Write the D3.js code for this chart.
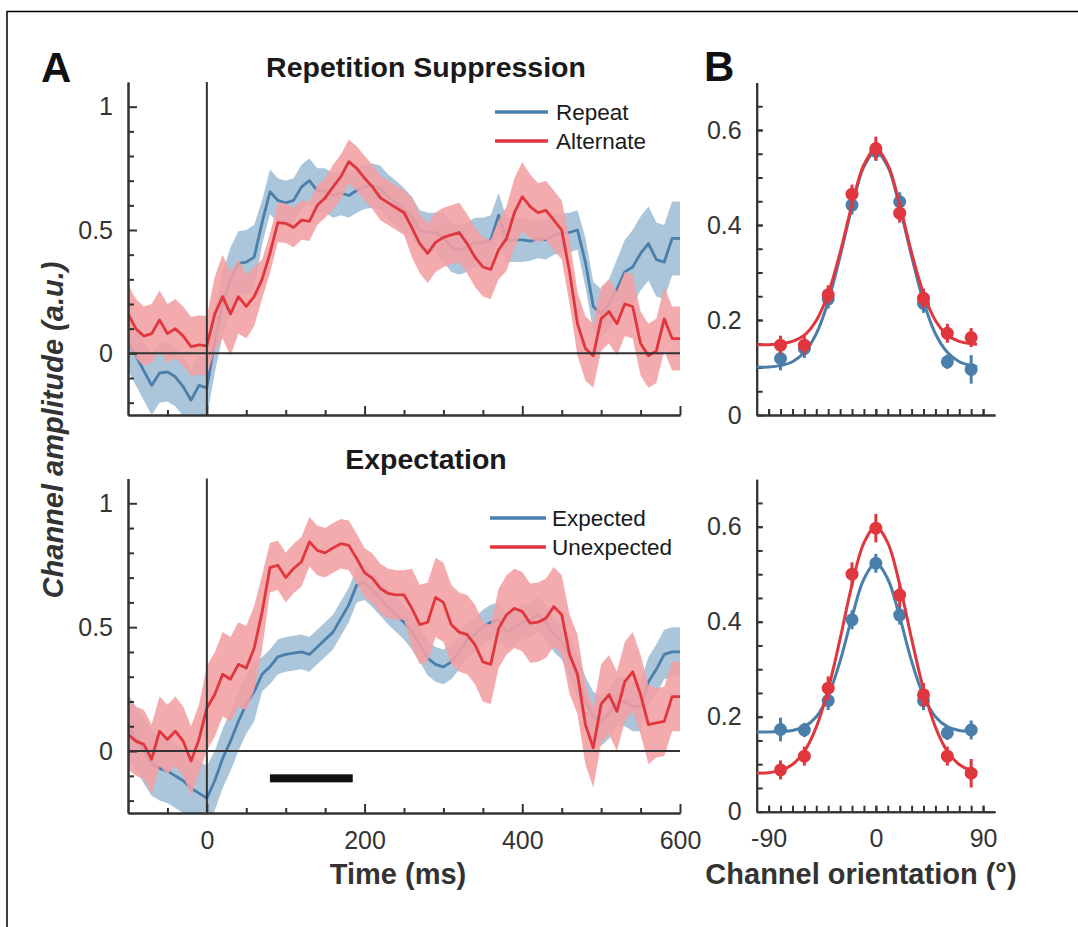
<!DOCTYPE html>
<html><head><meta charset="utf-8">
<script src="https://cdn.jsdelivr.net/npm/d3@7"></script>
<style>
body{margin:0;background:#fff}
svg{display:block}
text{font-family:"Liberation Sans",Arial,Helvetica,sans-serif}
</style>
</head><body>
<svg id="c" width="1078" height="927"></svg>
<script>
// ---------- DATA ----------
const times = d3.range(-100, 601, 10); // ms, sample times

const repeatMean = [0.05,-0.01,-0.07,-0.13,-0.08,-0.075,-0.095,-0.135,-0.19,-0.13,-0.14,
  0.05,0.2,0.30,0.365,0.37,0.39,
  0.53,0.655,0.62,0.61,0.62,0.675,0.70,0.66,0.66,0.64,0.65,0.64,0.66,0.675,0.68,0.67,0.635,0.61,0.58,
  0.555,0.50,0.49,0.49,0.47,0.43,0.42,0.43,0.45,0.45,0.46,0.56,0.46,0.46,0.46,0.455,0.465,0.46,0.48,0.487,0.49,0.50,
  0.37,0.19,0.16,0.2,0.26,0.33,
  0.35,0.405,0.445,0.38,0.37,0.466,0.466];
const repeatErr = [0.12,0.12,0.12,0.12,0.12,0.12,0.12,0.12,0.12,0.12,0.12,
  0.13,0.13,0.13,0.13,0.13,0.13,
  0.09,0.09,0.09,0.09,0.09,0.09,0.09,0.09,0.09,0.09,0.09,0.09,0.09,0.09,0.09,0.09,0.09,0.09,0.09,
  0.08,0.08,0.08,0.08,0.1,0.1,0.1,0.1,0.1,0.1,0.1,0.09,0.09,0.09,0.09,0.08,0.08,0.08,0.08,0.08,0.08,0.08,
  0.1,0.1,0.1,0.1,0.12,0.13,
  0.15,0.15,0.15,0.15,0.15,0.15,0.15];

const alternateMean = [0.16,0.10,0.07,0.08,0.135,0.08,0.10,0.07,0.027,0.034,0.03,
  0.16,0.23,0.16,0.23,0.19,0.23,
  0.30,0.405,0.53,0.527,0.51,0.54,0.535,0.60,0.63,0.675,0.716,0.777,0.75,0.71,0.675,0.63,0.61,0.59,0.57,
  0.51,0.445,0.405,0.45,0.47,0.48,0.49,0.445,0.39,0.35,0.34,0.42,0.465,0.57,0.635,0.595,0.57,0.58,0.54,0.50,0.33,0.12,
  0.02,-0.01,0.14,0.17,0.12,0.2,
  0.19,0.04,-0.01,0.01,0.14,0.06,0.06];
const alternateErr = [0.12,0.12,0.12,0.12,0.12,0.12,0.12,0.12,0.12,0.12,0.12,
  0.15,0.17,0.17,0.15,0.13,0.12,
  0.08,0.08,0.08,0.08,0.08,0.08,0.08,0.08,0.08,
  0.09,0.09,0.09,0.09,0.09,0.09,0.09,0.09,0.09,0.09,
  0.12,0.12,0.12,0.12,0.12,0.12,0.12,0.12,0.12,0.12,0.12,0.12,0.13,0.14,0.14,0.13,0.12,0.12,0.12,0.12,
  0.13,0.13,0.13,0.13,0.13,0.13,0.13,0.13,0.13,0.13,0.13,0.13,0.13,0.13,0.13];

const expectedMean = [0.1,0.05,0.0,-0.05,-0.07,-0.08,-0.1,-0.12,-0.15,-0.17,-0.19,
  -0.12,-0.03,0.04,0.12,0.19,0.24,
  0.31,0.34,0.38,0.39,0.395,0.40,0.39,0.42,0.45,0.48,0.535,0.59,0.67,0.68,0.65,0.616,0.58,0.55,0.52,
  0.48,0.43,0.375,0.35,0.34,0.36,0.40,0.45,0.47,0.50,0.52,0.53,0.48,0.50,0.52,0.53,0.55,0.52,0.47,0.44,0.38,0.30,
  0.20,0.14,0.12,0.15,0.20,0.20,
  0.18,0.18,0.28,0.33,0.39,0.40,0.40];
const expectedErr = [0.13,0.13,0.13,0.13,0.13,0.13,0.13,0.13,0.13,0.13,0.13,
  0.12,0.12,0.12,0.12,0.12,0.12,
  0.07,0.07,0.07,0.07,0.07,0.07,0.07,0.07,0.07,0.07,0.07,0.07,0.07,0.07,0.07,0.07,0.07,0.07,0.07,
  0.07,0.07,0.07,0.07,0.07,0.07,0.07,0.07,0.07,0.07,0.07,0.07,0.07,0.07,0.07,0.07,0.07,0.07,0.07,0.07,0.08,0.09,
  0.1,0.1,0.1,0.1,0.1,0.1,
  0.1,0.1,0.1,0.1,0.1,0.1,0.1];

const unexpectedMean = [0.067,0.04,0.027,-0.033,0.08,0.047,0.08,0.04,-0.04,0.047,0.174,
  0.228,0.31,0.29,0.35,0.335,0.415,
  0.56,0.74,0.75,0.70,0.737,0.764,0.845,0.81,0.80,0.82,0.837,0.83,0.777,0.72,0.697,0.656,0.636,0.63,0.63,
  0.576,0.51,0.52,0.62,0.60,0.51,0.48,0.47,0.43,0.36,0.35,0.495,0.55,0.576,0.563,0.516,0.52,0.536,0.583,0.55,0.39,0.31,
  0.107,0.013,0.19,0.228,0.16,0.28,
  0.32,0.228,0.107,0.114,0.12,0.22,0.22];
const unexpectedErr = [0.14,0.14,0.14,0.14,0.14,0.14,0.14,0.14,0.14,0.14,
  0.17,0.17,0.17,0.17,0.17,0.17,0.17,
  0.15,
  0.1,0.1,0.1,0.1,0.1,0.1,0.1,0.1,0.1,0.1,0.1,0.1,0.1,0.1,0.1,0.1,0.1,0.1,
  0.16,0.16,0.16,0.16,0.16,0.16,0.16,0.16,0.16,0.16,0.16,0.16,0.16,0.16,0.16,0.16,0.16,0.16,
  0.16,0.16,0.16,0.16,0.16,0.16,0.16,0.16,0.16,0.16,0.16,0.16,0.16,0.14,0.14,0.14,0.14];

const sigWindow = [80, 185];   // ms, significance bar
const sigLevel = -0.11;

// Panel B
const orientations = [-80,-60,-40,-20,0,20,40,60,80];
const repeatAmp = [0.119,0.14,0.244,0.442,0.555,0.449,0.235,0.112,0.096];
const repeatAmpErr = [0.025,0.02,0.02,0.02,0.02,0.02,0.02,0.015,0.03];
const alternateAmp = [0.147,0.147,0.253,0.465,0.561,0.425,0.246,0.172,0.163];
const alternateAmpErr = [0.02,0.02,0.02,0.02,0.025,0.02,0.02,0.02,0.02];
const expectedAmp = [0.173,0.172,0.234,0.404,0.523,0.414,0.234,0.166,0.172];
const expectedAmpErr = [0.025,0.015,0.02,0.02,0.02,0.02,0.02,0.015,0.02];
const unexpectedAmp = [0.088,0.117,0.26,0.50,0.597,0.456,0.246,0.117,0.081];
const unexpectedAmpErr = [0.02,0.02,0.025,0.025,0.03,0.025,0.025,0.02,0.03];

const fitDegs = [-100,-90,-80,-70,-60,-50,-40,-30,-20,-10,0,10,20,30,40,50,60,70,80,85];
const repeatFit = [0.101,0.101,0.104,0.112,0.132,0.171,0.239,0.334,0.438,0.523,0.555,0.523,0.438,0.334,0.239,0.171,0.132,0.112,0.104,0.102];
const alternateFit = [0.148,0.148,0.150,0.155,0.168,0.199,0.256,0.342,0.443,0.527,0.560,0.527,0.443,0.342,0.256,0.199,0.168,0.155,0.150,0.149];
const expectedFit = [0.168,0.168,0.169,0.171,0.179,0.200,0.244,0.317,0.410,0.490,0.523,0.490,0.410,0.317,0.244,0.200,0.179,0.171,0.169,0.168];
const unexpectedFit = [0.081,0.082,0.087,0.0995,0.127,0.178,0.258,0.364,0.478,0.566,0.600,0.566,0.478,0.364,0.258,0.178,0.127,0.0995,0.087,0.084];

// ---------- STYLE ----------
const BLUE = "#4a7eab", RED = "#e0363d";
const BLUE_BAND = "#a6c3d8", RED_BAND = "#f29fa3";
const AX = "#333";

const svg = d3.select("#c");
svg.append("rect").attr("width",1078).attr("height",927).attr("fill","#fff");
svg.append("path").attr("d","M7,927V11.5H1078").attr("fill","none").attr("stroke","#000").attr("stroke-width",1.5);

function styleAxis(g){
  g.select(".domain").attr("stroke",AX).attr("stroke-width",2);
  g.selectAll(".tick line").attr("stroke",AX).attr("stroke-width",2);
  g.selectAll(".tick text").attr("fill",AX).attr("font-size",25).attr("font-family","'Liberation Sans',Arial,sans-serif");
}

// ---------- PANEL A ----------
const xT = d3.scaleLinear().domain([-100,600]).range([128,680]);
const yA1 = d3.scaleLinear().domain([-0.25,1.1]).range([415,82]);
const yA2 = d3.scaleLinear().domain([-0.25,1.1]).range([813,478.5]);

function timePanel(y, id, blue, blueErr, red, redErr, showLabels){
  const g = svg.append("g");
  g.append("clipPath").attr("id",id).append("rect")
    .attr("x",xT.range()[0]).attr("y",y.range()[1])
    .attr("width",xT.range()[1]-xT.range()[0]).attr("height",y.range()[0]-y.range()[1]);
  const pg = g.append("g").attr("clip-path",`url(#${id})`);
  const area = (m,e)=>d3.area().x((d,i)=>xT(times[i])).y0((d,i)=>y(m[i]-e[i])).y1((d,i)=>y(m[i]+e[i]))(m);
  const line = (m)=>d3.line().x((d,i)=>xT(times[i])).y(d=>y(d))(m);
  pg.append("path").attr("d",area(blue,blueErr)).attr("fill",BLUE_BAND).attr("opacity",0.95);
  pg.append("path").attr("d",line(blue)).attr("fill","none").attr("stroke",BLUE).attr("stroke-width",2.8).attr("stroke-linejoin","round");
  pg.append("path").attr("d",area(red,redErr)).attr("fill",RED_BAND).attr("opacity",0.88);
  pg.append("path").attr("d",line(red)).attr("fill","none").attr("stroke",RED).attr("stroke-width",2.8).attr("stroke-linejoin","round");

  // reference lines
  g.append("line").attr("x1",xT(-100)).attr("x2",xT(600)).attr("y1",y(0)).attr("y2",y(0)).attr("stroke",AX).attr("stroke-width",2);
  g.append("line").attr("x1",xT(0)).attr("x2",xT(0)).attr("y1",y(1.1)).attr("y2",y(-0.25)).attr("stroke",AX).attr("stroke-width",2);

  const x0 = xT.range()[0], yb = y.range()[0];
  // y axis
  g.append("g").attr("transform",`translate(${x0},0)`)
    .call(d3.axisLeft(y).tickValues([-0.2,-0.1,0.1,0.2,0.3,0.4,0.6,0.7,0.8,0.9]).tickSize(-6).tickSizeOuter(0).tickFormat(""))
    .call(styleAxis);
  g.append("g").attr("transform",`translate(${x0},0)`)
    .call(d3.axisLeft(y).tickValues([0,0.5,1]).tickSize(-9).tickSizeOuter(0).tickPadding(15).tickFormat(d=>String(d)))
    .call(styleAxis);
  // x axis
  g.append("g").attr("transform",`translate(0,${yb})`)
    .call(d3.axisBottom(xT).tickValues([-50,50,100,150,250,300,350,450,500,550]).tickSize(-5).tickSizeOuter(0).tickFormat(""))
    .call(styleAxis);
  g.append("g").attr("transform",`translate(0,${yb})`)
    .call(d3.axisBottom(xT).tickValues([0,200,400,600]).tickSize(-9).tickSizeOuter(0).tickPadding(18).tickFormat(d=>showLabels?String(d):""))
    .call(styleAxis);
  return g;
}

timePanel(yA1, "clipA1", repeatMean, repeatErr, alternateMean, alternateErr, false);
const gA2 = timePanel(yA2, "clipA2", expectedMean, expectedErr, unexpectedMean, unexpectedErr, true);

// significance bar
gA2.append("rect").attr("x",xT(sigWindow[0])).attr("width",xT(sigWindow[1])-xT(sigWindow[0]))
  .attr("y",yA2(sigLevel)-4).attr("height",8).attr("fill","#111");

// titles
svg.append("text").attr("x",426).attr("y",77).attr("text-anchor","middle").attr("font-weight","bold").attr("font-size",28.5).attr("fill","#1a1a1a").text("Repetition Suppression");
svg.append("text").attr("x",426).attr("y",469).attr("text-anchor","middle").attr("font-weight","bold").attr("font-size",28.5).attr("fill","#1a1a1a").text("Expectation");

// panel letters
svg.append("text").attr("x",41).attr("y",82).attr("font-weight","bold").attr("font-size",42).attr("fill","#111").text("A");
svg.append("text").attr("x",704).attr("y",81).attr("font-weight","bold").attr("font-size",42).attr("fill","#111").text("B");

// axis labels
svg.append("text").attr("transform","translate(63,430) rotate(-90)").attr("text-anchor","middle")
  .attr("font-weight","bold").attr("font-style","italic").attr("font-size",29).attr("fill","#333").text("Channel amplitude (a.u.)");
svg.append("text").attr("x",398).attr("y",884).attr("text-anchor","middle").attr("font-weight","bold").attr("font-size",29).attr("fill","#333").text("Time (ms)");
svg.append("text").attr("x",861).attr("y",884).attr("text-anchor","middle").attr("font-weight","bold").attr("font-size",29).attr("fill","#333").text("Channel orientation (°)");

// legends
function legend(x1,x2,tx,ys,labels){
  const cols=[BLUE,RED];
  labels.forEach((lab,i)=>{
    svg.append("line").attr("x1",x1).attr("x2",x2).attr("y1",ys[i]).attr("y2",ys[i]).attr("stroke",cols[i]).attr("stroke-width",3.5);
    svg.append("text").attr("x",tx).attr("y",ys[i]).attr("dy","0.36em").attr("font-size",22.5).attr("fill","#1a1a1a").text(lab);
  });
}
legend(495,548,556,[112,141],["Repeat","Alternate"]);
legend(490,546,552,[518,547],["Expected","Unexpected"]);

// ---------- PANEL B ----------
const xB = d3.scaleLinear().domain([-100,100]).range([756.7,995]);
const yB1 = d3.scaleLinear().domain([0,0.7]).range([415,82.5]);
const yB2 = d3.scaleLinear().domain([0,0.7]).range([811.7,479.2]);

function tuningPanel(y, blueAmp, blueErr, blueFit, redAmp, redErr, redFit, showLabels){
  const g = svg.append("g");
  const x0 = xB.range()[0], yb = y.range()[0];
  g.append("g").attr("transform",`translate(${x0},0)`)
    .call(d3.axisLeft(y).tickValues(d3.range(1,14).map(k=>k*0.05)).tickSize(-6).tickSizeOuter(0).tickFormat(""))
    .call(styleAxis);
  g.append("g").attr("transform",`translate(${x0},0)`)
    .call(d3.axisLeft(y).tickValues([0,0.2,0.4,0.6]).tickSize(-6).tickSizeOuter(0).tickPadding(15).tickFormat(d=>d===0?"0":d.toFixed(1)))
    .call(styleAxis);
  g.append("g").attr("transform",`translate(0,${yb})`)
    .call(d3.axisBottom(xB).tickValues(d3.range(-90,91,10)).tickSize(-6).tickSizeOuter(0).tickFormat(""))
    .call(styleAxis);
  g.append("g").attr("transform",`translate(0,${yb})`)
    .call(d3.axisBottom(xB).tickValues([-90,0,90]).tickSize(-6).tickSizeOuter(0).tickPadding(18).tickFormat(d=>showLabels?String(d):""))
    .call(styleAxis);

  const fitLine = d3.line().x((d,i)=>xB(fitDegs[i])).y(d=>y(d)).curve(d3.curveCatmullRom.alpha(0.5));
  [[blueAmp,blueErr,blueFit,BLUE],[redAmp,redErr,redFit,RED]].forEach(([amp,err,fit,col])=>{
    g.append("path").attr("d",fitLine(fit)).attr("fill","none").attr("stroke",col).attr("stroke-width",3);
    const pts = g.append("g");
    pts.selectAll("line").data(amp).join("line")
      .attr("x1",(d,i)=>xB(orientations[i])).attr("x2",(d,i)=>xB(orientations[i]))
      .attr("y1",(d,i)=>y(d-err[i])).attr("y2",(d,i)=>y(d+err[i]))
      .attr("stroke",col).attr("stroke-width",3);
    pts.selectAll("circle").data(amp).join("circle")
      .attr("cx",(d,i)=>xB(orientations[i])).attr("cy",d=>y(d)).attr("r",6.5).attr("fill",col);
  });
}
tuningPanel(yB1, repeatAmp, repeatAmpErr, repeatFit, alternateAmp, alternateAmpErr, alternateFit, false);
tuningPanel(yB2, expectedAmp, expectedAmpErr, expectedFit, unexpectedAmp, unexpectedAmpErr, unexpectedFit, true);
</script>
</body></html>
